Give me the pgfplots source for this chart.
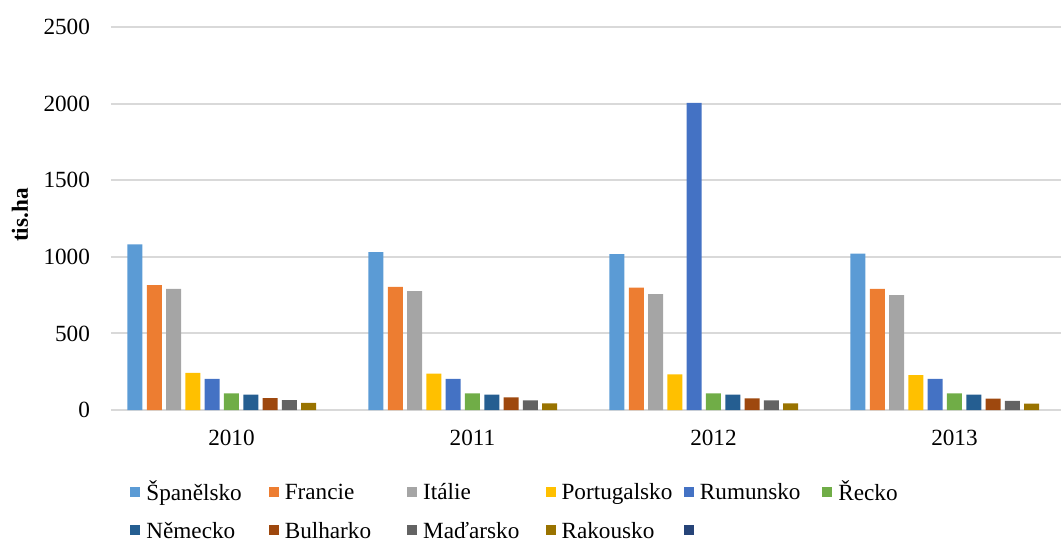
\documentclass[border=0pt]{standalone}
\usepackage{fontspec}
\setmainfont{Liberation Serif}
\usepackage{pgfplots}
\pgfplotsset{compat=1.18}

\definecolor{cEs}{HTML}{5B9BD5}
\definecolor{cFr}{HTML}{ED7D31}
\definecolor{cIt}{HTML}{A5A5A5}
\definecolor{cPt}{HTML}{FFC000}
\definecolor{cRo}{HTML}{4472C4}
\definecolor{cGr}{HTML}{70AD47}
\definecolor{cDe}{HTML}{255E91}
\definecolor{cBg}{HTML}{9E480E}
\definecolor{cHu}{HTML}{636363}
\definecolor{cAt}{HTML}{997300}
\definecolor{cXx}{HTML}{264478}
\definecolor{gridgray}{HTML}{D9D9D9}
\newcommand{\legcell}[1]{\makebox[60.2pt][l]{\hspace*{1pt}\strut #1}}

\begin{document}
\begin{tikzpicture}
\useasboundingbox (-55.5pt,-65.5pt) rectangle (475pt,205pt);
\begin{axis}[
  at={(0,0)}, anchor=south west,
  scale only axis, width=475pt, height=191.5pt,
  ybar=2.15pt, bar width=7.5pt,
  xmin=-0.5, xmax=3.442, ymin=0, ymax=2500,
  xtick={0,1,2,3}, xticklabels={2010,2011,2012,2013},
  ytick={0,500,...,2500},
  scaled y ticks=false,
  yticklabel style={/pgf/number format/1000 sep={}, xshift=-7pt},
  xticklabel style={yshift=-2pt},
  ymajorgrids, grid style={draw=gridgray, line width=1pt},
  axis line style={draw=none}, tick style={draw=none},
  font=\fontsize{11.6}{13.5}\selectfont,
  /pgf/number format/assume math mode=true,
  ylabel={\textbf{tis.ha}},
  every axis y label/.style={at={(axis cs:-0.5,1272)}, xshift=-45.5pt, rotate=90, anchor=center},
  legend columns=6,
  legend image code/.code={\path[#1] (0pt,-2.5pt) rectangle (5pt,2.5pt);},
  legend style={draw=none, fill=none, inner sep=0pt, anchor=north west,
    at={(rel axis cs:0,0)}, xshift=9.5pt, yshift=-33pt, row sep=4pt},
]
\addplot[fill=cEs, draw=none] coordinates {(0,1081) (1,1031) (2,1018) (3,1020)};
\addplot[fill=cFr, draw=none] coordinates {(0,815) (1,804) (2,798) (3,791)};
\addplot[fill=cIt, draw=none] coordinates {(0,791) (1,776) (2,757) (3,750)};
\addplot[fill=cPt, draw=none] coordinates {(0,242) (1,238) (2,233) (3,227)};
\addplot[fill=cRo, draw=none] coordinates {(0,203) (1,203) (2,2005) (3,203)};
\addplot[fill=cGr, draw=none] coordinates {(0,109) (1,109) (2,109) (3,109)};
\addplot[fill=cDe, draw=none] coordinates {(0,100) (1,100) (2,100) (3,100)};
\addplot[fill=cBg, draw=none] coordinates {(0,78) (1,83) (2,76) (3,74)};
\addplot[fill=cHu, draw=none] coordinates {(0,65) (1,63) (2,63) (3,59)};
\addplot[fill=cAt, draw=none] coordinates {(0,46) (1,44) (2,44) (3,41)};
% empty 11th series: only its legend key is visible
\addplot[fill=cXx, draw=none] coordinates {(10,0)};
\legend{\legcell{Španělsko},\legcell{Francie},\legcell{Itálie},\legcell{Portugalsko},\legcell{Rumunsko},\legcell{Řecko},\legcell{Německo},\legcell{Bulharko},\legcell{Maďarsko},\legcell{Rakousko},\legcell{}}
\end{axis}
\end{tikzpicture}
\end{document}
